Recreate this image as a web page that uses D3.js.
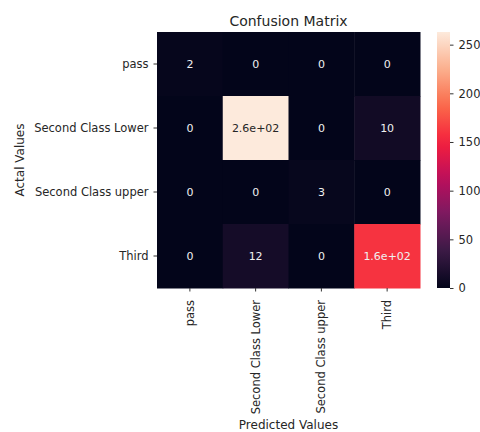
<!DOCTYPE html>
<html>
<head>
<meta charset="utf-8">
<script src="https://cdn.jsdelivr.net/npm/d3@7"></script>
<style>
  html, body { margin: 0; padding: 0; background: #fff; }
  svg { display: block; font-family: "DejaVu Sans", sans-serif; }
</style>
</head>
<body>
<svg id="chart" width="480" height="432"></svg>
<script>
// Class labels (rows = actual, columns = predicted)
const categories = ["pass", "Second Class Lower", "Second Class upper", "Third"];

// Confusion matrix counts, one array per actual class
const rowPass = [2, 0, 0, 0];
const rowSecondLower = [0, 263, 0, 10];
const rowSecondUpper = [0, 0, 3, 0];
const rowThird = [0, 12, 0, 160];

const colorbarTicks = [0, 50, 100, 150, 200, 250];

// rocket-style colour ramp stops
const rampStops = ["#03051a", "#3a1a45", "#7a1a60", "#bc0e5c", "#f5203c", "#fa6a4a", "#fbb08e", "#fdeadc"];

const rows = [rowPass, rowSecondLower, rowSecondUpper, rowThird];
const cells = [];
rows.forEach((r, i) => r.forEach((v, j) => cells.push({ row: i, col: j, value: v })));
const vmax = d3.max(cells, d => d.value);

const svg = d3.select("#chart");
const plotLeft = 157, plotRight = 420, plotTop = 32, plotBottom = 288;
const tickFont = 11.5, labelFont = 12, titleFont = 14;

const x = d3.scaleBand().domain(d3.range(categories.length)).range([plotLeft, plotRight]);
const y = d3.scaleBand().domain(d3.range(categories.length)).range([plotTop, plotBottom]);

const rampInterp = d3.piecewise(d3.interpolateRgb, rampStops);
const color = d3.scaleSequential(rampInterp).domain([0, vmax]);

// heatmap cells
svg.append("g").selectAll("rect").data(cells).join("rect")
  .attr("x", d => x(d.col))
  .attr("y", d => y(d.row))
  .attr("width", x.bandwidth() + 0.5)
  .attr("height", y.bandwidth() + 0.5)
  .attr("fill", d => color(d.value));

// number formatting like printf "%.2g"
function fmt2g(v) {
  if (v === 0) return "0";
  const e = Math.floor(Math.log10(Math.abs(v)));
  if (e < -4 || e >= 2) {
    const s = d3.format(".1e")(v); // e.g. 2.6e+2
    return s.replace(/e([+-])(\d)$/, "e$10$2");
  }
  return String(+v.toPrecision(2));
}

function luminance(c) {
  const rgb = d3.rgb(c);
  const lin = ch => { ch /= 255; return ch <= 0.03928 ? ch / 12.92 : Math.pow((ch + 0.055) / 1.055, 2.4); };
  return 0.2126 * lin(rgb.r) + 0.7152 * lin(rgb.g) + 0.0722 * lin(rgb.b);
}

// annotations
svg.append("g").selectAll("text").data(cells).join("text")
  .attr("x", d => x(d.col) + x.bandwidth() / 2)
  .attr("y", d => y(d.row) + y.bandwidth() / 2)
  .attr("text-anchor", "middle")
  .attr("dominant-baseline", "central")
  .attr("font-size", 11)
  .attr("fill", d => luminance(color(d.value)) > 0.408 ? "#262626" : "#f0f0f0")
  .text(d => fmt2g(d.value));

// axes
const xAxis = d3.axisBottom(x).tickSize(3.5).tickPadding(3).tickFormat(i => categories[i]);
const gx = svg.append("g").attr("transform", `translate(0,${plotBottom})`).call(xAxis);
gx.select(".domain").remove();
gx.selectAll(".tick line").attr("stroke", "#333");
gx.selectAll(".tick text")
  .attr("font-size", tickFont).attr("font-family", "DejaVu Sans, sans-serif").attr("fill", "#262626")
  .attr("transform", "rotate(-90)")
  .attr("text-anchor", "end")
  .attr("dy", "0.35em")
  .attr("x", -12)
  .attr("y", 0);

const yAxis = d3.axisLeft(y).tickSize(3.5).tickPadding(5).tickFormat(i => categories[i]);
const gy = svg.append("g").attr("transform", `translate(${plotLeft},0)`).call(yAxis);
gy.select(".domain").remove();
gy.selectAll(".tick line").attr("stroke", "#333");
gy.selectAll(".tick text").attr("font-size", tickFont).attr("font-family", "DejaVu Sans, sans-serif").attr("fill", "#262626");

// titles
svg.append("text").attr("x", (plotLeft + plotRight) / 2).attr("y", 25.5)
  .attr("text-anchor", "middle").attr("font-size", titleFont).attr("fill", "#262626")
  .text("Confusion Matrix");
svg.append("text").attr("x", (plotLeft + plotRight) / 2).attr("y", 429)
  .attr("text-anchor", "middle").attr("font-size", labelFont).attr("fill", "#262626")
  .text("Predicted Values");
svg.append("text")
  .attr("transform", `translate(24,${(plotTop + plotBottom) / 2}) rotate(-90)`)
  .attr("text-anchor", "middle").attr("font-size", labelFont).attr("fill", "#262626")
  .text("Actal Values");

// colorbar
const cbX = 437, cbW = 13;
const cbScale = d3.scaleLinear().domain([0, vmax]).range([plotBottom, plotTop]);
const defs = svg.append("defs");
const grad = defs.append("linearGradient").attr("id", "cbgrad")
  .attr("x1", 0).attr("y1", 1).attr("x2", 0).attr("y2", 0);
d3.range(0, 1.0001, 0.05).forEach(t => {
  grad.append("stop").attr("offset", t).attr("stop-color", rampInterp(t));
});
svg.append("rect").attr("x", cbX).attr("y", plotTop).attr("width", cbW).attr("height", plotBottom - plotTop)
  .attr("fill", "url(#cbgrad)");
const cbAxis = d3.axisRight(cbScale).tickValues(colorbarTicks).tickSize(3.5).tickPadding(5);
const gc = svg.append("g").attr("transform", `translate(${cbX + cbW},0)`).call(cbAxis);
gc.select(".domain").remove();
gc.selectAll(".tick line").attr("stroke", "#333");
gc.selectAll(".tick text").attr("font-size", tickFont).attr("font-family", "DejaVu Sans, sans-serif").attr("fill", "#262626");
</script>
</body>
</html>
